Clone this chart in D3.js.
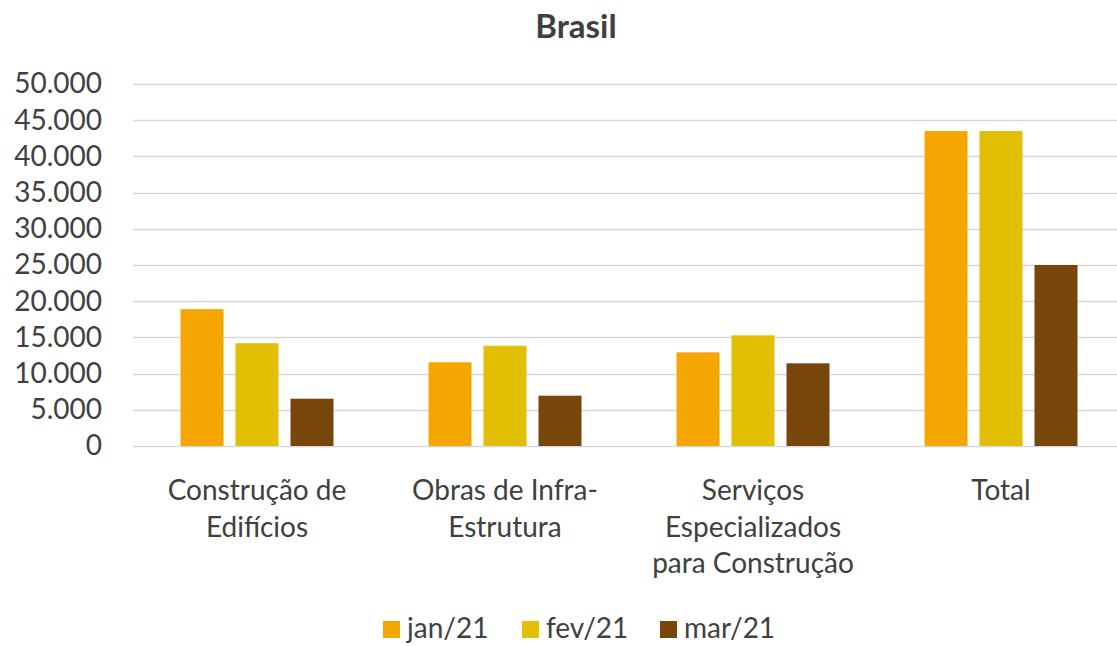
<!DOCTYPE html>
<html>
<head>
<meta charset="utf-8">
<script src="https://cdn.jsdelivr.net/npm/d3@7"></script>
<style>
  body { margin: 0; background: #fff; }
  text { font-family: Lato, "Liberation Sans", sans-serif; fill: #404040; }
</style>
</head>
<body>
<div id="chart"></div>
<script>
var categories = [
  ["Construção de", "Edifícios"],
  ["Obras de Infra-", "Estrutura"],
  ["Serviços", "Especializados", "para Construção"],
  ["Total"]
];
var series = ["jan/21", "fev/21", "mar/21"];
var jan21 = [18900, 11560, 12940, 43500];
var fev21 = [14200, 13850, 15290, 43500];
var mar21 = [6530, 6950, 11420, 25000];
var yTicks = [0, 5000, 10000, 15000, 20000, 25000, 30000, 35000, 40000, 45000, 50000];
var colors = ["#F6A600", "#E2BE05", "#78450B"];

var values = [jan21, fev21, mar21];

var width = 1117,
    height = 646;

var svg = d3.select("#chart").append("svg")
  .attr("width", width)
  .attr("height", height);

var x0 = d3.scaleBand()
  .domain(d3.range(categories.length))
  .range([133, 1125]);

var x1 = d3.scaleBand()
  .domain(series)
  .range([0, x0.bandwidth()])
  .paddingInner(0.218)
  .paddingOuter(0.864);

var y = d3.scaleLinear()
  .domain([0, 50000])
  .range([446, 84]);

var fmt = function(v) {
  return v === 0 ? "0" : d3.format(",")(v).replace(/,/g, ".");
};

// gridlines
svg.append("g")
  .selectAll("line")
  .data(yTicks)
  .enter()
  .append("line")
  .attr("x1", 133)
  .attr("x2", 1125)
  .attr("y1", function(d) { return Math.round(y(d)) + 0.5; })
  .attr("y2", function(d) { return Math.round(y(d)) + 0.5; })
  .attr("stroke", "#d9d9d9")
  .attr("stroke-width", 1.5);

// y axis labels
var yAxis = d3.axisLeft(y)
  .tickValues(yTicks)
  .tickFormat(fmt)
  .tickSize(0)
  .tickPadding(0);

var gy = svg.append("g")
  .attr("transform", "translate(102,0)")
  .call(yAxis);
gy.select(".domain").remove();
gy.selectAll("text")
  .style("font-size", "28px")
  .style("font-family", "Lato, 'Liberation Sans', sans-serif")
  .attr("fill", "#404040");

// bars
var groups = svg.append("g")
  .selectAll("g")
  .data(categories)
  .enter()
  .append("g")
  .attr("transform", function(d, i) { return "translate(" + x0(i) + ",0)"; });

groups.selectAll("rect")
  .data(function(d, i) {
    return series.map(function(s, j) { return { s: s, v: values[j][i], c: colors[j] }; });
  })
  .enter()
  .append("rect")
  .attr("x", function(d) { return x1(d.s); })
  .attr("width", x1.bandwidth())
  .attr("y", function(d) { return y(d.v); })
  .attr("height", function(d) { return y(0) - y(d.v); })
  .attr("fill", function(d) { return d.c; });

// category labels
groups.append("text")
  .attr("text-anchor", "middle")
  .attr("x", x0.bandwidth() / 2)
  .style("font-size", "28px")
  .selectAll("tspan")
  .data(function(d) { return d; })
  .enter()
  .append("tspan")
  .attr("x", x0.bandwidth() / 2)
  .attr("y", function(d, i) { return 500 + i * 36.5; })
  .text(function(d) { return d; });

// title
svg.append("text")
  .attr("x", 576)
  .attr("y", 38)
  .attr("text-anchor", "middle")
  .style("font-size", "33px")
  .style("font-weight", "bold")
  .text("Brasil");

// legend
var legendX = [383, 522, 660];
var legend = svg.append("g")
  .selectAll("g")
  .data(series)
  .enter()
  .append("g")
  .attr("transform", function(d, i) { return "translate(" + legendX[i] + ",621)"; });

legend.append("rect")
  .attr("width", 17)
  .attr("height", 17)
  .attr("fill", function(d, i) { return colors[i]; });

legend.append("text")
  .attr("x", 24)
  .attr("y", 17)
  .style("font-size", "28px")
  .text(function(d) { return d; });
</script>
</body>
</html>
